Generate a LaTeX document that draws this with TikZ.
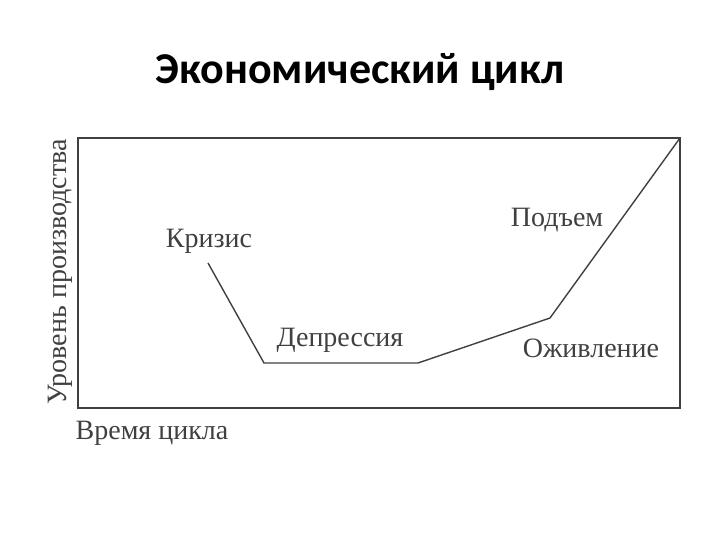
\documentclass[tikz,border=0pt]{standalone}
\usepackage{fontspec}
\setmainfont{Liberation Serif}
\newfontfamily\titlefont{Carlito}
\begin{document}
\begin{tikzpicture}[x=1pt,y=-1pt,
  lbl/.style={font=\fontsize{28}{30}\selectfont, text=black!75, inner sep=0pt},
  ln/.style={draw=black!75, line width=1.4pt}]
\useasboundingbox (0,0) rectangle (720,540);
\node[font=\titlefont\bfseries\fontsize{44}{48}\selectfont] (title) at (360,72) {Экономический цикл};
\draw[ln] (78,138) rectangle (680,408);
\coordinate (a) at (208,263);
\coordinate (b) at (264,363);
\coordinate (c) at (418,363);
\coordinate (d) at (550,318);
\coordinate (e) at (680,138);
\draw[ln] (a) -- (b) -- (c) -- (d) -- (e);
\node[lbl] (k) at (209,241) {Кризис};
\node[lbl] (dp) at (340,340) {Депрессия};
\node[lbl] (p) at (557,220) {Подъем};
\node[lbl] (o) at (591,348) {Оживление};
\node[lbl] (t) at (152,433) {Время цикла};
\node[lbl, rotate=90] (y) at (60,272) {Уровень производства};
\end{tikzpicture}
\end{document}
